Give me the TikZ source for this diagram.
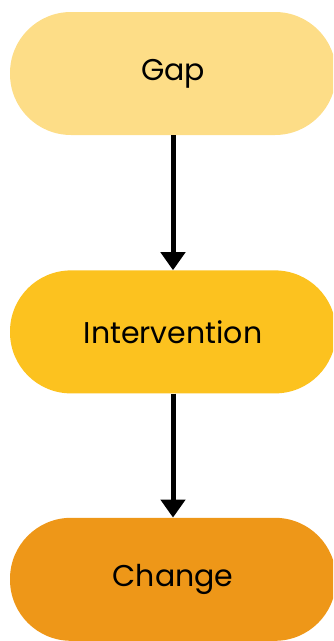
\documentclass[tikz,border=0pt]{standalone}
\usepackage{fontspec}
\setmainfont{Poppins}
\usetikzlibrary{positioning,arrows.meta}

\definecolor{gapfill}{HTML}{FDDD87}
\definecolor{intervfill}{HTML}{FCC21F}
\definecolor{changefill}{HTML}{EE9718}

\begin{document}
\begin{tikzpicture}[
  x=1pt, y=-1pt,
  every node/.style={rounded corners=61pt,minimum width=326pt,minimum height=123pt,inner sep=0pt,font=\fontsize{30}{36}\selectfont},
  link/.style={line width=5pt,-{Triangle[length=18pt,width=24pt]}}
]
  \useasboundingbox (0,0) rectangle (333,641);
  \clip (0,0) rectangle (333,641);
  \node[fill=gapfill] (gap) at (173,73.5) {Gap};
  \node[fill=intervfill,below=135pt of gap] (interv) {Intervention};
  \node[fill=changefill,below=124pt of interv] (change) {Change};
  \draw[link] (gap) -- (interv);
  \draw[link] (interv) -- (change);
\end{tikzpicture}
\end{document}
